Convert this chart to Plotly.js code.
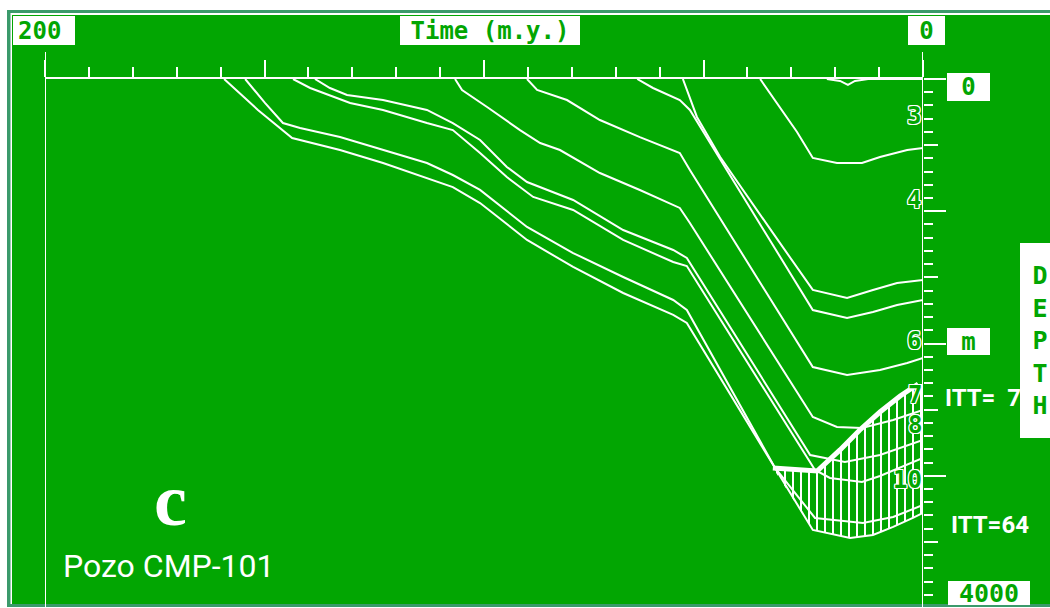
<!DOCTYPE html>
<html><head><meta charset="utf-8">
<script src="https://cdn.plot.ly/plotly-3.0.1.min.js"></script>
<style>html,body{margin:0;padding:0;background:#fff;overflow:hidden}#chart{width:1050px;height:608px}</style>
</head><body><div id="chart"></div>
<script>
// ---- data (age in Ma, depth in m) ----
const timeAxisLabels = ['200', 'Time (m.y.)', '0'];
const depthAxisLabels = ['0', 'm', '4000'];
const depthSideTitle = 'DEPTH';
const horizonTags = ['3', '4', '6', '7', '8', '10'];
const ittLabels = ['ITT=  7', 'ITT=64'];

const L1_age   = [159.2,151.5,143.7,140.3,132.8,123.0,113.0,107.1,100.9,90.2,79.7,68.3,56.9,53.8,25.1,16.6,11.4,6.8,2.3,0];
const L1_depth = [0,234,446,476,537,635,749,817,938,1217,1421,1618,1784,1845,3410,3471,3448,3387,3319,3281];

const L2_age   = [154.4,149.9,145.8,141.9,132.8,123.0,113.0,107.1,100.9,90.2,79.7,68.3,56.9,53.8,33.7,24.6,13.7,6.8,0];
const L2_depth = [0,181,333,370,439,537,635,726,839,1119,1316,1497,1671,1747,2941,3319,3357,3312,3221];

const L3_age   = [143.5,139.6,130.5,123.0,113.0,107.1,100.9,94.8,88.8,79.7,68.3,56.9,53.8,24.6,21.2,13.9,9.8,2.3,0];
const L3_depth = [0,68,181,234,333,386,560,741,892,990,1217,1384,1414,2956,3017,3047,3002,2896,2866];

const L4_age   = [138.5,135.1,131.2,123.0,113.0,107.1,100.9,94.8,90.2,79.7,68.3,56.9,53.8,25.7,17.8,9.8,0];
const L4_depth = [0,68,121,159,234,333,461,665,779,915,1142,1293,1353,2843,2896,2843,2730];

const L5_age   = [106.6,105.0,99.3,91.8,87.2,82.7,73.6,64.5,55.4,53.1,25.1,19.6,13.9,6.8,0];
const L5_depth = [0,83,212,386,484,537,711,839,975,1089,2556,2631,2639,2578,2503];

const L6_age   = [90.2,87.9,81.1,73.6,64.5,55.4,53.1,25.1,17.3,9.8,3.6,0];
const L6_depth = [0,83,159,310,439,560,688,2178,2238,2200,2147,2109];

const L7_age   = [65.1,61.5,55.4,53.1,25.1,17.3,11.4,5.9,0];
const L7_depth = [0,68,159,234,1747,1807,1762,1709,1671];

const L8_age   = [54.7,51.5,46.2,40.1,34.2,25.1,17.3,11.4,5.9,0];
const L8_depth = [0,287,590,877,1164,1595,1656,1595,1542,1520];

const L9_age   = [37.1,32.6,28.7,25.1,19.6,13.9,9.8,3.6,0];
const L9_depth = [0,212,401,597,635,635,590,537,522];

const L10_age   = [21.9,18.9,17.1,15.5,12.5,0];
const L10_depth = [0,15,45,15,0,0];

const tti7_age   = [34.2,24.1,18.9,14.4,9.8,5.2,1.1];
const tti7_depth = [2941,2964,2805,2654,2518,2397,2306];

// ---- styling ----
const GREEN = '#02a602';
const TEAL = '#3b9a6b';
const W = 1050, H = 608, ML = 45, MR = 127, MT = 79, MB = 0;
const PW = W - ML - MR, PH = H - MT - MB;
const px = x => (x - ML) / PW;
const py = y => (H - y) / PH;

const horizons = [
  [L1_age, L1_depth], [L2_age, L2_depth], [L3_age, L3_depth], [L4_age, L4_depth],
  [L5_age, L5_depth], [L6_age, L6_depth], [L7_age, L7_depth], [L8_age, L8_depth],
  [L9_age, L9_depth], [L10_age, L10_depth]
];

// hatched polygon: TTI=7 curve on top, deepest horizon (L1) at the bottom
const bottomIdx = L1_age.map((a, i) => i).filter(i => L1_age[i] <= tti7_age[1] + 1).reverse();
const hatchX = tti7_age.concat([0], bottomIdx.map(i => L1_age[i]));
const hatchY = tti7_depth.concat([tti7_depth[tti7_depth.length - 1]], bottomIdx.map(i => L1_depth[i]));

const traces = [];
traces.push({
  x: hatchX, y: hatchY, mode: 'none', fill: 'toself', fillcolor: 'rgba(0,0,0,0)',
  fillpattern: {shape: '|', size: 8, solidity: 0.25, fgcolor: '#ffffff'},
  hoverinfo: 'skip', showlegend: false
});
horizons.forEach(h => traces.push({
  x: h[0], y: h[1], mode: 'lines', line: {color: '#ffffff', width: 2},
  hoverinfo: 'skip', showlegend: false
}));
traces.push({
  x: tti7_age, y: tti7_depth, yaxis: 'y2', mode: 'lines', line: {color: '#ffffff', width: 5},
  hoverinfo: 'skip', showlegend: false
});

const boxFont = (s) => ({family: 'DejaVu Sans Mono, monospace', size: s, color: GREEN, weight: 'bold'});
function box(text, left, top, w, h, size, align) {
  return {text: text, xref: 'paper', yref: 'paper', x: px(left), y: py(top),
    xanchor: 'left', yanchor: 'top', width: w, height: h, align: align || 'center', valign: 'middle',
    bgcolor: '#ffffff', borderpad: 0, borderwidth: 0, showarrow: false, font: boxFont(size)};
}
function label(text, cx, cy, font, xanchor) {
  return {text: text, xref: 'paper', yref: 'paper', x: px(cx), y: py(cy),
    xanchor: xanchor || 'center', yanchor: 'middle', showarrow: false, borderpad: 0, font: font};
}

const outline = '1px 0 0 #fff, -1px 0 0 #fff, 0 1px 0 #fff, 0 -1px 0 #fff, 1px 1px 0 #fff, -1px -1px 0 #fff, 1px -1px 0 #fff, -1px 1px 0 #fff';
const tagFont = {family: 'DejaVu Sans Mono, monospace', size: 24, color: GREEN, weight: 'bold', shadow: outline};
const tagPos = [[914,116],[914,200],[914,341],[915,395],[915,425],[907,480]];
const ittFont = {family: 'Roboto, Liberation Sans, sans-serif', size: 24, color: '#ffffff', weight: 'bold'};

const annotations = [
  Object.assign(box(timeAxisLabels[0], 13, 16, 52, 19, 24, 'left'), {borderpad: 5}),
  box(timeAxisLabels[1], 400, 16, 180, 29, 24),
  box(timeAxisLabels[2], 908, 16, 37, 29, 24),
  box(depthAxisLabels[0], 947, 73, 43, 28, 24),
  box(depthAxisLabels[1], 947, 328, 43, 27, 24),
  box(depthAxisLabels[2], 948, 581, 82, 24, 25),
  box(depthSideTitle.split('').join('<br>'), 1020, 243, 40, 195, 25),
  label('c', 170, 500, {family: 'Liberation Serif, serif', size: 74, color: '#ffffff', weight: 'bold'}),
  label('Pozo CMP-101', 62, 566, {family: 'Roboto, Liberation Sans, sans-serif', size: 32, color: '#ffffff'}, 'left'),
  label(ittLabels[0], 944, 398, ittFont, 'left'),
  label(ittLabels[1], 950, 525, ittFont, 'left')
];
horizonTags.forEach((t, i) => annotations.push(label(t, tagPos[i][0], tagPos[i][1], tagFont)));

const shapes = [
  {type: 'rect', xref: 'paper', yref: 'paper', x0: px(7), x1: px(1070), y0: py(607), y1: py(10), fillcolor: TEAL, line: {width: 0}, layer: 'below'},
  {type: 'rect', xref: 'paper', yref: 'paper', x0: px(10.5), x1: px(1070), y0: py(604), y1: py(13), fillcolor: '#ffffff', line: {width: 0}, layer: 'below'},
  {type: 'rect', xref: 'paper', yref: 'paper', x0: px(12), x1: px(1070), y0: py(604), y1: py(15), fillcolor: GREEN, line: {width: 0}, layer: 'below'},
  {type: 'line', xref: 'x', yref: 'paper', x0: 200, x1: 200, y0: 0, y1: py(52), line: {color: '#ffffff', width: 2}},
  {type: 'line', xref: 'x', yref: 'paper', x0: 0, x1: 0, y0: 0, y1: py(52), line: {color: '#ffffff', width: 2}}
];

const layout = {
  width: W, height: H, margin: {l: ML, r: MR, t: MT, b: MB, pad: 0},
  paper_bgcolor: '#ffffff', plot_bgcolor: 'rgba(0,0,0,0)', showlegend: false,
  xaxis: {range: [200, 0], side: 'top', ticks: 'outside', ticklen: 17, tickwidth: 2, tickcolor: '#fff',
    tick0: 0, dtick: 50, showline: true, linecolor: '#fff', linewidth: 2, showticklabels: false,
    showgrid: false, zeroline: false, fixedrange: true,
    minor: {dtick: 10, ticks: 'outside', ticklen: 10, tickwidth: 2, tickcolor: '#fff', showgrid: false}},
  yaxis: {range: [4000, 0], side: 'right', ticks: 'outside', ticklen: 14, tickwidth: 2, tickcolor: '#fff',
    tick0: 0, dtick: 500, showline: false, showticklabels: false, showgrid: false, zeroline: false, fixedrange: true,
    minor: {dtick: 100, ticks: 'outside', ticklen: 9, tickwidth: 2, tickcolor: '#fff', showgrid: false}},
  yaxis2: {range: [4000, 0], overlaying: 'y', side: 'right', ticks: 'outside', ticklen: 22, tickwidth: 2,
    tickcolor: '#fff', tick0: 0, dtick: 1000, showline: false, showticklabels: false, showgrid: false,
    zeroline: false, fixedrange: true},
  shapes: shapes, annotations: annotations
};

Plotly.newPlot('chart', traces, layout, {staticPlot: true, displayModeBar: false});
</script></body></html>
